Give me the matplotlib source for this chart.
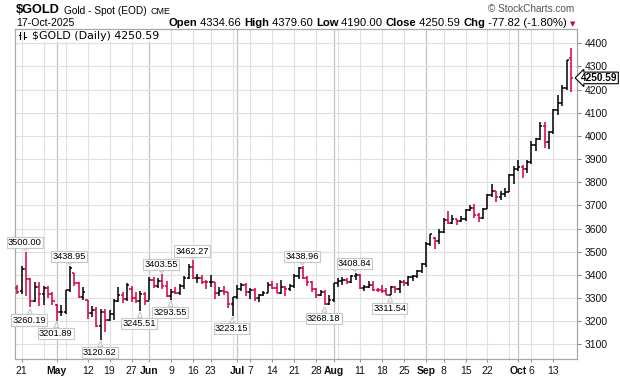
import matplotlib
matplotlib.use('Agg')
import matplotlib.pyplot as plt
import numpy as np
import pandas as pd

# Daily bars for $GOLD, 17-Apr-2025 .. 17-Oct-2025 (US holidays skipped)
holidays = ['2025-04-18', '2025-05-26', '2025-06-19', '2025-07-04', '2025-09-01']
dates = pd.bdate_range('2025-04-17', '2025-10-17')
dates = dates[~dates.isin(pd.to_datetime(holidays))]

opens = [3343, 3330, 3425, 3381, 3288, 3349, 3319, 3343, 3316, 3270,
         3239, 3241, 3333, 3408, 3365, 3306, 3290, 3235, 3249, 3178,
         3240, 3204, 3230, 3289, 3314, 3294, 3340, 3301, 3288, 3318,
         3289, 3380, 3353, 3374, 3352, 3310, 3326, 3323, 3354, 3386,
         3432, 3385, 3388, 3370, 3368, 3368, 3323, 3332, 3327, 3274,
         3303, 3338, 3357, 3326, 3336, 3302, 3313, 3324, 3355, 3344,
         3324, 3347, 3339, 3350, 3397, 3431, 3388, 3368, 3337, 3314,
         3326, 3275, 3290, 3363, 3373, 3380, 3369, 3397, 3398, 3342,
         3348, 3356, 3336, 3335, 3332, 3315, 3347, 3339, 3371, 3365,
         3393, 3397, 3416, 3448, 3533, 3560, 3545, 3587, 3636, 3625,
         3640, 3634, 3643, 3679, 3690, 3659, 3644, 3685, 3746, 3764,
         3736, 3749, 3760, 3833, 3858, 3866, 3857, 3886, 3961, 3985,
         4041, 3976, 4018, 4110, 4142, 4209, 4334.66]
highs = [3357, 3440, 3500.00, 3386, 3368, 3371, 3352, 3350, 3327, 3275,
         3269, 3336, 3438.95, 3410, 3370, 3346, 3292, 3265, 3262, 3252,
         3253, 3250, 3295, 3346, 3325, 3366, 3351, 3325, 3330, 3326,
         3392, 3393, 3385, 3403.55, 3375, 3340, 3349, 3360, 3397, 3446,
         3462.27, 3404, 3398, 3376, 3398, 3369, 3348, 3350, 3328, 3306,
         3358, 3365, 3366, 3345, 3345, 3317, 3330, 3369, 3375, 3366,
         3377, 3353, 3361, 3402, 3433, 3438.96, 3396, 3373, 3345, 3334,
         3334, 3315, 3363, 3385, 3390, 3385, 3400, 3408.84, 3404, 3358,
         3375, 3374, 3345, 3358, 3345, 3350, 3351, 3379, 3377, 3394,
         3398, 3423, 3453, 3540, 3578, 3564, 3600, 3646, 3674, 3658,
         3642, 3655, 3686, 3703, 3707, 3666, 3687, 3750, 3791, 3764,
         3761, 3777, 3835, 3872, 3895, 3875, 3895, 3977, 3990, 4059,
         4059, 4022, 4116, 4179, 4218, 4330, 4379.60]
lows = [3318, 3318, 3310, 3260.19, 3281, 3265, 3269, 3300, 3268, 3201.89,
        3223, 3230, 3325, 3350, 3300, 3290, 3208, 3218, 3173, 3120.62,
        3154, 3200, 3205, 3284, 3279, 3287, 3285, 3277, 3245.51, 3271,
        3290, 3343, 3343, 3339, 3306, 3293.55, 3316, 3314, 3340, 3384,
        3381, 3366, 3362, 3340, 3347, 3295, 3311, 3315, 3255, 3223.15,
        3296, 3329, 3311, 3296, 3287, 3282, 3309, 3322, 3341, 3320,
        3319, 3310, 3332, 3345, 3383, 3381, 3351, 3325, 3301, 3308,
        3268.18, 3270, 3281, 3347, 3358, 3360, 3366, 3380, 3341, 3331,
        3342, 3330, 3325, 3323, 3315, 3311.54, 3324, 3321, 3350, 3351,
        3375, 3385, 3408, 3436, 3525, 3511, 3534, 3583, 3620, 3620,
        3614, 3630, 3633, 3674, 3644, 3628, 3642, 3684, 3738, 3716,
        3722, 3738, 3759, 3793, 3850, 3820, 3842, 3880, 3935, 3981,
        3946, 3945, 4008, 4092, 4130, 4200, 4190.00]
closes = [3327, 3425, 3381, 3288, 3349, 3319, 3343, 3316, 3288, 3239,
          3241, 3333, 3431, 3365, 3306, 3325, 3235, 3249, 3178, 3240,
          3204, 3230, 3289, 3314, 3294, 3357, 3301, 3288, 3318, 3289,
          3380, 3353, 3374, 3352, 3310, 3326, 3323, 3354, 3386, 3432,
          3385, 3388, 3370, 3368, 3368, 3323, 3332, 3327, 3274, 3303,
          3338, 3357, 3326, 3336, 3302, 3313, 3324, 3355, 3344, 3324,
          3347, 3339, 3350, 3397, 3431, 3388, 3368, 3337, 3314, 3326,
          3275, 3290, 3363, 3373, 3380, 3369, 3397, 3398, 3342, 3348,
          3356, 3336, 3335, 3332, 3315, 3347, 3339, 3371, 3365, 3393,
          3397, 3416, 3448, 3533, 3578, 3545, 3587, 3636, 3625, 3640,
          3634, 3643, 3679, 3690, 3659, 3644, 3685, 3746, 3764, 3736,
          3749, 3760, 3833, 3858, 3866, 3857, 3886, 3961, 3985, 4041,
          3976, 4018, 4110, 4142, 4209, 4327, 4250.59]
prev_close = 3343  # close of 16-Apr, sets the colour of the first bar

high_notes = ['2025-04-22', '2025-05-06', '2025-06-05', '2025-06-16', '2025-07-23', '2025-08-08']
low_notes = ['2025-04-23', '2025-05-01', '2025-05-15', '2025-05-29', '2025-06-09',
             '2025-06-30', '2025-07-30', '2025-08-20']

tick_dates = ['2025-04-21', '2025-05-01', '2025-05-12', '2025-05-19', '2025-05-27',
              '2025-06-02', '2025-06-09', '2025-06-16', '2025-06-23', '2025-07-01',
              '2025-07-07', '2025-07-14', '2025-07-21', '2025-07-28', '2025-08-01',
              '2025-08-11', '2025-08-18', '2025-08-25', '2025-09-02', '2025-09-08',
              '2025-09-15', '2025-09-22', '2025-10-01', '2025-10-06', '2025-10-13']
tick_text = ['21', 'May', '12', '19', '27', 'Jun', '9', '16', '23', 'Jul', '7', '14',
             '21', '28', 'Aug', '11', '18', '25', 'Sep', '8', '15', '22', 'Oct', '6', '13']
y_ticks = list(range(3100, 4401, 100))

RED = '#d4003a'
plt.rcParams['font.family'] = ['Liberation Sans', 'DejaVu Sans']

W, H = 620, 376
fig = plt.figure(figsize=(W / 100, H / 100), dpi=100)
ax = fig.add_axes([15 / W, 1 - 359.3 / H, (576.7 - 15) / W, (359.3 - 28.5) / H])

x = np.arange(len(dates))
idx = {d.strftime('%Y-%m-%d'): i for i, d in enumerate(dates)}

# grid: weekly lines light, month starts darker
week_first = [i for i in range(1, len(dates)) if dates[i].isocalendar()[1] != dates[i - 1].isocalendar()[1]]
month_first = [i for i in range(1, len(dates)) if dates[i].month != dates[i - 1].month]
for i in week_first:
    ax.axvline(i, color='#e0e0e0', lw=0.8, zorder=0)
for i in month_first:
    ax.axvline(i, color='#c4c4c4', lw=0.9, zorder=0)
for v in y_ticks:
    ax.axhline(v, color='#e0e0e0', lw=0.8, zorder=0)

# OHLC bars, red when close is below prior close
prior = [prev_close] + closes[:-1]
colors = [RED if c < p else 'black' for c, p in zip(closes, prior)]
tw = 0.48
ax.vlines(x, lows, highs, colors=colors, lw=1.1, zorder=3)
ax.hlines(opens, x - tw, x, colors=colors, lw=1.1, zorder=3)
ax.hlines(closes, x, x + tw, colors=colors, lw=1.1, zorder=3)

box = dict(boxstyle='square,pad=0.12', fc='white', ec='#c8c8c8', lw=0.8)
arrow = dict(arrowstyle='wedge,tail_width=0.5,shrink_factor=0.5', fc='white', ec='#c8c8c8',
             lw=0.8, shrinkA=0, shrinkB=1)
for d in high_notes:
    i = idx[d]
    ax.annotate(f'{highs[i]:.2f}', xy=(i, highs[i]), xytext=(-0.8, 6.8), textcoords='offset points',
                ha='center', va='center', fontsize=6.7, bbox=box, arrowprops=arrow,
                annotation_clip=False, zorder=5)
for d in low_notes:
    i = idx[d]
    ax.annotate(f'{lows[i]:.2f}', xy=(i, lows[i]), xytext=(-0.8, -9.2), textcoords='offset points',
                ha='center', va='center', fontsize=6.7, bbox=box, arrowprops=arrow,
                annotation_clip=False, zorder=5)

ax.set_xlim(-0.52, 127.3)
ax.set_ylim(3035.6, 4464)
ax.yaxis.tick_right()
ax.set_yticks(y_ticks)
ax.tick_params(axis='y', length=3, width=0.8, color='#888888', pad=2.5, labelsize=7.5, labelcolor='#111111')
ax.set_xticks([idx[d] for d in tick_dates])
ax.set_xticklabels(tick_text)
for lab in ax.get_xticklabels():
    if not lab.get_text().isdigit():
        lab.set_fontweight('bold')
ax.tick_params(axis='x', length=2, width=0.8, color='#999999', pad=2.5, labelsize=7.5, labelcolor='#111111')
for s in ax.spines.values():
    s.set_color('#a8a8a8')
    s.set_linewidth(0.9)

# last price tag on the right axis
ax.annotate(f'{closes[-1]:.2f}', xy=(1, closes[-1]), xycoords=('axes fraction', 'data'),
            xytext=(3.2, 0), textcoords='offset points', ha='left', va='center',
            fontsize=7.2, fontweight='bold', annotation_clip=False,
            bbox=dict(boxstyle='larrow,pad=0.08', fc='white', ec='black', lw=0.8))

# in-chart legend
ax.text(0.03, 0.993, f'$GOLD (Daily) {closes[-1]:.2f}', transform=ax.transAxes, ha='left', va='top',
        fontsize=7.9, family='DejaVu Sans', zorder=6,
        bbox=dict(boxstyle='square,pad=0.1', fc='white', ec='none'))
for gx in (0.0095, 0.0165):
    ax.plot([gx, gx], [0.968, 0.99], transform=ax.transAxes, color='black', lw=0.8, zorder=7)
ax.plot([0.0065, 0.0095], [0.98, 0.98], transform=ax.transAxes, color='black', lw=0.8, zorder=7)
ax.plot([0.0165, 0.0195], [0.975, 0.975], transform=ax.transAxes, color='black', lw=0.8, zorder=7)


def px(xp, yp):
    return xp / W, 1 - yp / H


fig.canvas.draw()
r = fig.canvas.get_renderer()

t = fig.text(*px(16, 10), '$GOLD', fontsize=9.2, fontweight='bold', va='center', ha='left')
x1 = 16 + t.get_window_extent(renderer=r).width + 4
t = fig.text(*px(x1, 10.5), 'Gold - Spot (EOD)', fontsize=7.3, va='center', ha='left')
x2 = x1 + t.get_window_extent(renderer=r).width + 4
fig.text(*px(x2, 11.5), 'CME', fontsize=6.4, va='center', ha='left')
fig.text(*px(16, 23.5), '17-Oct-2025', fontsize=7.6, va='center', ha='left')
fig.text(*px(488, 9), '\u00a9 StockCharts.com', fontsize=7.2, color='#555555', va='center', ha='left')

parts = [('Open', 'bold'), (' 4334.66 ', 'normal'), ('High', 'bold'), (' 4379.60 ', 'normal'),
         ('Low', 'bold'), (' 4190.00 ', 'normal'), ('Close', 'bold'), (' 4250.59 ', 'normal'),
         ('Chg', 'bold'), (' -77.82 (-1.80%)', 'normal')]
xpos = 567.0
for txt, wgt in reversed(parts):
    t = fig.text(*px(xpos, 23.5), txt, fontsize=8.1, fontweight=wgt, va='center', ha='right')
    xpos -= t.get_window_extent(renderer=r).width
fig.text(*px(572.5, 24), '\u25bc', fontsize=5, color=RED, va='center', ha='center', family='DejaVu Sans')

fig.savefig('out.png', dpi=100)
